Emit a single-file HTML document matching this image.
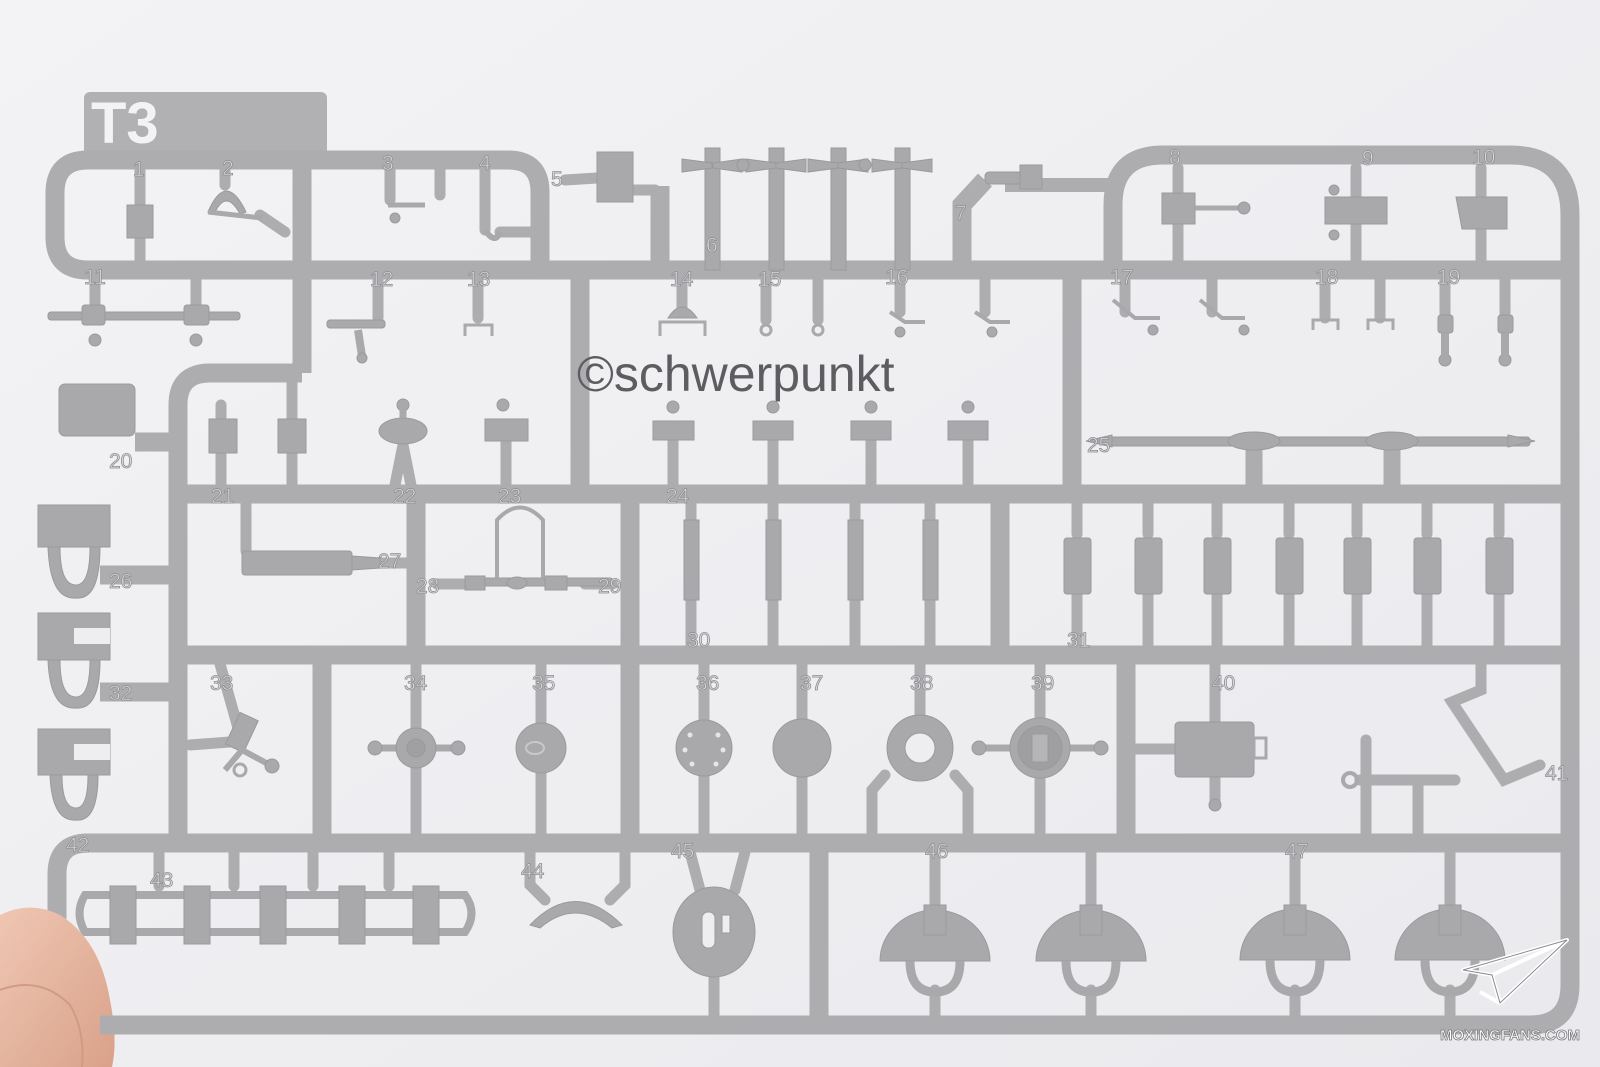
<!DOCTYPE html>
<html><head><meta charset="utf-8"><style>
html,body{margin:0;padding:0;width:1600px;height:1067px;overflow:hidden;background:#eeeef1}
svg{display:block}
.n{font-family:"Liberation Sans Narrow","Liberation Sans",sans-serif;font-size:21px;fill:#dcdcdf;stroke:#8e8e92;stroke-width:.8}
</style></head><body>
<svg width="1600" height="1067" viewBox="0 0 1600 1067" xmlns="http://www.w3.org/2000/svg">
<defs>
<linearGradient id="bg" x1="0" y1="0" x2="1" y2="1"><stop offset="0" stop-color="#f3f3f5"/><stop offset="1" stop-color="#eaeaee"/></linearGradient>
<linearGradient id="sk" x1="0" y1="0" x2="1" y2="1"><stop offset="0" stop-color="#efc7b3"/><stop offset="1" stop-color="#d9a189"/></linearGradient>
</defs>
<rect width="1600" height="1067" fill="url(#bg)"/>

<!-- T3 tab -->
<rect x="84" y="92" width="243" height="70" rx="6" fill="#b1b1b4"/>
<text x="91" y="143" font-family="Liberation Sans,sans-serif" font-weight="bold" font-size="58" fill="#f3f3f5">T3</text>

<g fill="none" stroke="#adadb0" stroke-width="19" stroke-linecap="butt">
<path d="M302 160 H88 Q55 160 55 193 V237 Q55 270 88 270 H1570"/>
<path d="M302 160 H508 Q540 160 540 192 V270"/>
<path d="M302 152 V373"/>
<path d="M302 373 H210 Q178 373 178 405 V843"/>
<path d="M178 494 H1570"/>
<path d="M178 655 H1570"/>
<path d="M1570 843 H88 Q57 843 57 874 V1000"/>
<path d="M1113 270 V205 Q1113 155 1163 155 H1510 Q1570 155 1570 215 V985 Q1570 1025 1530 1025 H100"/>
<path d="M580 270 V494"/>
<path d="M1072 270 V494"/>
<path d="M660 186 V270"/>
<path d="M962 270 V205 L985 180"/>
<path d="M416 494 V655"/>
<path d="M630 494 V843"/>
<path d="M1000 494 V655"/>
<path d="M322 655 V843"/>
<path d="M1126 655 V843"/>
<path d="M819 843 V1025"/>
<path d="M100 575 H178"/>
<path d="M100 692 H178"/>
<path d="M135 442 H178"/>
<path d="M1254 441 V494" stroke-width="17"/>
<path d="M1392 441 V494" stroke-width="17"/>
<path d="M1005 185 H1113" stroke-width="14"/>
</g>

<g fill="none" stroke="#adadb0" stroke-width="11" stroke-linecap="round">
<path d="M140 168 V205 M140 238 V262"/>
<path d="M225 168 V185 M260 215 L285 232"/>
<path d="M390 168 V200 M440 168 V195"/>
<path d="M485 168 V230 M500 232 L530 232"/>
<path d="M565 180 L597 178 M633 190 L655 190"/>
<path d="M1178 168 V193 M1178 224 V262"/>
<path d="M1356 168 V197 M1356 224 V262"/>
<path d="M1481 168 V197 M1481 229 V262"/>
<path d="M95 278 V305 M196 278 V305"/>
<path d="M378 278 V318 M478 278 V318"/>
<path d="M682 278 V310 M766 278 V320 M818 278 V320"/>
<path d="M900 278 V312 M985 278 V312"/>
<path d="M1125 278 V312 M1212 278 V312"/>
<path d="M1325 278 V318 M1380 278 V318"/>
<path d="M1445 278 V315 M1505 278 V315"/>
<path d="M221 405 V419 M221 453 V485 M292 380 V419 M292 453 V485"/>
<path d="M403 445 L395 485 M403 445 L411 485"/>
<path d="M506 441 V485"/>
<path d="M673 440 V485 M773 440 V485 M871 440 V485 M968 440 V485"/>
<path d="M246 503 V551 M380 563 H420"/>
<path d="M437 584 H465 M585 584 H612"/>
<path d="M691 503 V520 M691 600 V646 M773 503 V520 M773 600 V646 M855 503 V520 M855 600 V646 M930 503 V520 M930 600 V646"/>
<path d="M1077 503 V534 M1077 594 V646 M1148 503 V534 M1148 594 V646 M1217 503 V534 M1217 594 V646 M1289 503 V534 M1289 594 V646 M1357 503 V534 M1357 594 V646 M1427 503 V534 M1427 594 V646 M1499 503 V534 M1499 594 V646"/>
<path d="M220 664 L240 735 M190 745 L230 742"/>
<path d="M416 664 V728 M416 768 V834"/>
<path d="M541 664 V722 M541 770 V834"/>
<path d="M704 664 V720 M704 776 V834"/>
<path d="M802 664 V720 M802 776 V834"/>
<path d="M920 664 V715 M885 775 L872 790 V834 M955 775 L968 790 V834"/>
<path d="M1040 664 V718 M1040 778 V834"/>
<path d="M1136 749 H1175 M1215 664 V722 M1215 777 V800"/>
<path d="M1481 664 V690 L1452 702 L1504 780 L1540 765 M1360 780 H1455 M1366 740 V834 M1418 780 V834"/>
<path d="M159 852 V886 M234 852 V886 M313 852 V886 M389 852 V886"/>
<path d="M530 852 V885 L545 900 M625 852 V885 L610 900"/>
<path d="M690 852 L700 890 M745 852 L735 890 M714 977 V1016"/>
<path d="M935 852 V905 M1091 852 V905 M1295 852 V905 M1450 852 V905"/>
<path d="M935 990 V1016 M1091 990 V1016 M1295 990 V1016 M1450 990 V1016"/>
</g>

<g fill="#a9a9ac" stroke="#9a9a9e" stroke-width="1">
<rect x="127" y="205" width="26" height="33"/>
<path d="M208 212 Q226 170 246 212 L240 214 Q226 188 214 214 Z"/>
<path d="M208 212 L262 218" stroke-width="5" fill="none" stroke="#a9a9ac"/>
<circle cx="395" cy="218" r="5"/><path d="M388 205 H425" stroke="#a9a9ac" stroke-width="5"/>
<path d="M485 230 Q495 245 500 232" stroke="#a9a9ac" stroke-width="6" fill="none"/>
<rect x="597" y="152" width="36" height="50"/>
<rect x="705" y="148" width="15" height="122"/><rect x="769" y="148" width="15" height="122"/>
<rect x="831" y="148" width="15" height="122"/><rect x="895" y="148" width="15" height="122"/>
<path d="M682 159 L712 163 V168 L682 172 Z M742 159 L713 163 V168 L742 172 Z M746 159 L776 163 V168 L746 172 Z M806 159 L776 163 V168 L806 172 Z M808 159 L838 163 V168 L808 172 Z M868 159 L838 163 V168 L868 172 Z M872 159 L902 163 V168 L872 172 Z M932 159 L902 163 V168 L932 172 Z"/>
<circle cx="743" cy="165" r="6"/><circle cx="865" cy="165" r="6"/>
<rect x="985" y="172" width="40" height="12" rx="4"/><rect x="1020" y="165" width="22" height="24"/>
<rect x="1162" y="193" width="33" height="31"/><path d="M1195 208 H1240" stroke="#a9a9ac" stroke-width="5"/><circle cx="1244" cy="208" r="6"/>
<rect x="1325" y="197" width="62" height="27"/><circle cx="1334" cy="190" r="5"/><circle cx="1334" cy="235" r="5"/>
<path d="M1456 197 H1507 V229 H1462 Z"/>
<rect x="48" y="312" width="192" height="8" rx="3"/><rect x="82" y="305" width="23" height="20" rx="3"/><rect x="184" y="305" width="25" height="20" rx="3"/>
<circle cx="95" cy="340" r="6"/><circle cx="196" cy="340" r="6"/>
<rect x="327" y="320" width="58" height="8" rx="3"/><path d="M358 330 L362 356" stroke="#a9a9ac" stroke-width="8"/><circle cx="362" cy="358" r="5"/>
<path d="M465 336 V325 H492 V336" fill="none" stroke="#a9a9ac" stroke-width="3"/>
<path d="M660 336 V322 H705 V336" fill="none" stroke="#a9a9ac" stroke-width="3"/><path d="M668 318 Q682 296 697 318 Z"/>
<circle cx="766" cy="330" r="5" fill="none" stroke="#a9a9ac" stroke-width="3"/><circle cx="818" cy="330" r="5" fill="none" stroke="#a9a9ac" stroke-width="3"/>
<path d="M890 312 L905 322 H925 M975 312 L990 322 H1010" fill="none" stroke="#a9a9ac" stroke-width="4"/>
<circle cx="900" cy="332" r="5"/><circle cx="992" cy="332" r="5"/>
<path d="M1113 300 L1135 318 H1160 M1200 300 L1222 318 H1245" fill="none" stroke="#a9a9ac" stroke-width="4"/>
<circle cx="1153" cy="330" r="5"/><circle cx="1244" cy="330" r="5"/>
<path d="M1313 330 V320 H1338 V330 M1368 330 V320 H1393 V330" fill="none" stroke="#a9a9ac" stroke-width="3"/>
<rect x="1438" y="315" width="15" height="18" rx="3"/><rect x="1498" y="315" width="15" height="18" rx="3"/>
<circle cx="1445" cy="360" r="6"/><circle cx="1505" cy="360" r="6"/>
<path d="M1445 333 V355 M1505 333 V355" stroke="#a9a9ac" stroke-width="8"/>
<rect x="59" y="384" width="76" height="52" rx="6"/>
<rect x="209" y="419" width="28" height="34"/><rect x="278" y="419" width="28" height="34"/>
<ellipse cx="403" cy="431" rx="24" ry="13"/><circle cx="403" cy="405" r="6"/><path d="M403 410 V418" stroke="#a9a9ac" stroke-width="7"/>
<rect x="485" y="419" width="43" height="22"/><circle cx="503" cy="405" r="6"/>
<rect x="653" y="421" width="41" height="19"/><rect x="753" y="421" width="40" height="19"/><rect x="851" y="421" width="40" height="19"/><rect x="948" y="421" width="40" height="19"/>
<circle cx="673" cy="407" r="6"/><circle cx="773" cy="407" r="6"/><circle cx="871" cy="407" r="6"/><circle cx="968" cy="407" r="6"/>
<rect x="1110" y="437" width="420" height="9" rx="3"/>
<ellipse cx="1254" cy="441" rx="26" ry="9"/><ellipse cx="1392" cy="441" rx="26" ry="9"/>
<path d="M1086 441 L1112 435 V447 Z M1535 441 L1508 435 V447 Z"/>
<rect x="38" y="505" width="72" height="42"/><path d="M48 547 Q50 600 76 598 Q100 600 100 547 L90 547 Q90 585 76 585 Q60 585 60 547 Z"/>
<rect x="38" y="613" width="72" height="47"/><rect x="74" y="628" width="36" height="16" fill="#eeeef1" stroke="none"/><path d="M48 660 Q50 710 76 708 Q100 710 100 660 L90 660 Q90 697 76 697 Q60 697 60 660 Z"/>
<rect x="38" y="729" width="72" height="46"/><rect x="74" y="744" width="36" height="16" fill="#eeeef1" stroke="none"/><path d="M50 775 Q52 822 76 820 Q98 822 98 775 L88 775 Q88 808 76 808 Q62 808 62 775 Z"/>
<rect x="242" y="551" width="110" height="24" rx="3"/>
<path d="M352 556 L380 558 V568 L352 570 Z"/>
<rect x="465" y="578" width="148" height="8" rx="3"/>
<rect x="465" y="576" width="20" height="14"/><rect x="545" y="576" width="22" height="14"/><ellipse cx="517" cy="583" rx="10" ry="6"/>
<path d="M497 578 V520 Q520 495 543 520 V578" fill="none" stroke="#a9a9ac" stroke-width="4"/>
<rect x="684" y="520" width="15" height="80"/><rect x="766" y="520" width="15" height="80"/><rect x="848" y="520" width="15" height="80"/><rect x="923" y="520" width="15" height="80"/>
<rect x="1064" y="538" width="27" height="56" rx="3"/><rect x="1135" y="538" width="27" height="56" rx="3"/><rect x="1204" y="538" width="27" height="56" rx="3"/><rect x="1276" y="538" width="27" height="56" rx="3"/><rect x="1344" y="538" width="27" height="56" rx="3"/><rect x="1414" y="538" width="27" height="56" rx="3"/><rect x="1486" y="538" width="27" height="56" rx="3"/>
<rect x="232" y="715" width="20" height="35" transform="rotate(25 242 732)"/>
<path d="M242 750 L270 765 M242 750 L225 770" stroke="#a9a9ac" stroke-width="6"/><circle cx="272" cy="766" r="7"/><circle cx="240" cy="770" r="6" fill="none" stroke="#a9a9ac" stroke-width="3"/>
<path d="M375 748 H458" stroke="#a9a9ac" stroke-width="7"/><circle cx="375" cy="748" r="7"/><circle cx="458" cy="748" r="7"/>
<circle cx="416" cy="748" r="20"/><circle cx="416" cy="748" r="9" fill="#a0a0a3"/>
<ellipse cx="541" cy="748" rx="25" ry="25"/><ellipse cx="535" cy="748" rx="9" ry="6" fill="none" stroke="#c8c8cb" stroke-width="2"/>
<circle cx="704" cy="748" r="28"/><g fill="#e6e6e9" stroke="none"><circle cx="690" cy="735" r="2.5"/><circle cx="718" cy="735" r="2.5"/><circle cx="685" cy="750" r="2.5"/><circle cx="723" cy="750" r="2.5"/><circle cx="692" cy="764" r="2.5"/><circle cx="716" cy="764" r="2.5"/></g>
<circle cx="802" cy="748" r="29"/>
<circle cx="920" cy="748" r="33"/><circle cx="920" cy="748" r="15" fill="#eeeef1"/>
<path d="M979 748 H1101" stroke="#a9a9ac" stroke-width="7"/><circle cx="979" cy="748" r="7"/><circle cx="1101" cy="748" r="7"/>
<circle cx="1040" cy="748" r="30"/><circle cx="1040" cy="748" r="22" fill="#9f9fa2"/><rect x="1032" y="734" width="16" height="28" fill="#b5b5b8"/>
<rect x="1175" y="722" width="79" height="55" rx="4"/><rect x="1254" y="738" width="12" height="20" fill="none" stroke="#a9a9ac" stroke-width="3"/>
<circle cx="1215" cy="805" r="6"/>
<circle cx="1350" cy="780" r="7" fill="none" stroke="#a9a9ac" stroke-width="4"/>
<path d="M85 895 Q74 913 85 932 H465 Q478 913 465 895 Z" fill="none" stroke="#a9a9ac" stroke-width="8"/>
<rect x="110" y="886" width="26" height="58"/><rect x="184" y="886" width="26" height="58"/><rect x="260" y="886" width="26" height="58"/><rect x="339" y="886" width="26" height="58"/><rect x="413" y="886" width="26" height="58"/>
<path d="M530 925 Q575 878 622 925 L612 928 Q575 898 540 928 Z"/>
<ellipse cx="714" cy="932" rx="41" ry="45"/><rect x="702" y="912" width="13" height="36" rx="6" fill="#eeeef1"/><rect x="722" y="915" width="8" height="18" fill="#eeeef1"/>
<path d="M880 961 A55 51 0 0 1 990 961 Z"/><path d="M1036 961 A55 51 0 0 1 1146 961 Z"/>
<path d="M1240 960 A55 51 0 0 1 1350 960 Z"/><path d="M1395 960 A55 51 0 0 1 1505 960 Z"/>
<rect x="924" y="905" width="22" height="30"/><rect x="1080" y="905" width="22" height="30"/><rect x="1284" y="905" width="22" height="30"/><rect x="1439" y="905" width="22" height="30"/>
<g fill="none" stroke="#a9a9ac" stroke-width="9">
<path d="M910 961 Q910 992 935 992 Q960 992 960 961"/><path d="M1066 961 Q1066 992 1091 992 Q1116 992 1116 961"/>
<path d="M1270 960 Q1270 992 1295 992 Q1320 992 1320 960"/><path d="M1425 960 Q1425 992 1450 992 Q1475 992 1475 960"/>
</g>
</g>

<g class="n">
<text x="133" y="176">1</text><text x="222" y="175">2</text><text x="382" y="170">3</text><text x="479" y="170">4</text><text x="551" y="186">5</text>
<text x="706" y="252">6</text><text x="955" y="220">7</text><text x="1169" y="164">8</text><text x="1362" y="165">9</text><text x="1472" y="164">10</text>
<text x="84" y="284">11</text><text x="370" y="286">12</text><text x="467" y="286">13</text><text x="670" y="286">14</text><text x="758" y="286">15</text><text x="885" y="284">16</text><text x="1110" y="284">17</text><text x="1315" y="284">18</text><text x="1437" y="284">19</text>
<text x="109" y="468">20</text><text x="211" y="503">21</text><text x="393" y="503">22</text><text x="498" y="503">23</text><text x="666" y="503">24</text><text x="1087" y="452">25</text>
<text x="109" y="588">26</text><text x="378" y="568">27</text><text x="416" y="593">28</text><text x="598" y="593">29</text><text x="687" y="647">30</text><text x="1067" y="647">31</text>
<text x="109" y="700">32</text><text x="210" y="690">33</text><text x="404" y="690">34</text><text x="532" y="690">35</text><text x="696" y="690">36</text><text x="800" y="690">37</text><text x="910" y="690">38</text><text x="1031" y="690">39</text><text x="1212" y="690">40</text><text x="1545" y="780">41</text>
<text x="66" y="852">42</text><text x="150" y="887">43</text><text x="521" y="878">44</text><text x="671" y="858">45</text><text x="925" y="858">46</text><text x="1285" y="858">47</text>
</g>

<text x="577" y="391" font-family="Liberation Sans,sans-serif" font-size="50" fill="#5d5d61">©schwerpunkt</text>

<!-- finger -->
<path d="M0 915 Q30 900 60 915 Q100 940 110 1000 Q118 1040 112 1067 H0 Z" fill="url(#sk)"/>
<path d="M0 990 Q40 975 70 1005 Q85 1030 82 1067" fill="none" stroke="#d29a82" stroke-width="2"/>
<path d="M100 1025 H120" stroke="#adadb0" stroke-width="19"/>

<g fill="none" stroke="#ffffff" stroke-width="4" stroke-linejoin="round">
<path d="M1463 970 L1567 940 L1500 1003 L1492 975 Z M1492 975 L1567 940 M1480 992 L1500 1003"/>
</g>
<g fill="none" stroke="#8a8a8e" stroke-width="1">
<path d="M1463 970 L1567 940 L1500 1003 L1492 975 Z"/>
</g>
<text x="1440" y="1040" font-family="Liberation Sans,sans-serif" font-weight="bold" font-size="15" fill="#ffffff" stroke="#7a7a7e" stroke-width=".8">MOXINGFANS.COM</text>
</svg>
</body></html>
